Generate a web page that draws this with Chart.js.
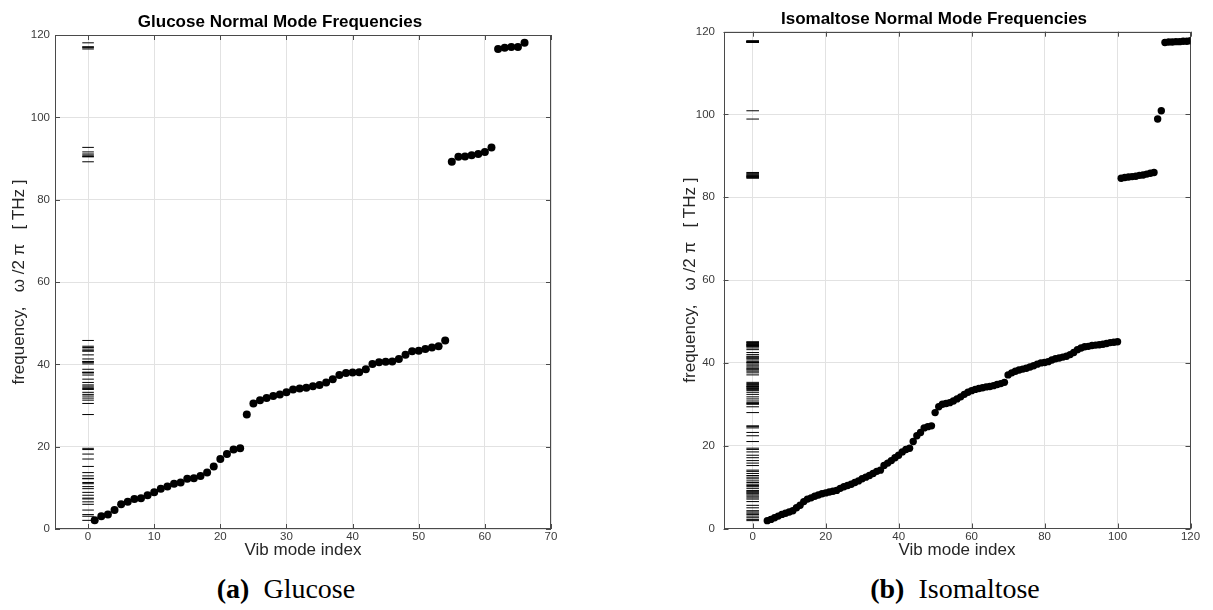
<!DOCTYPE html>
<html>
<head>
<meta charset="utf-8">
<title>Normal mode frequencies</title>
<script src="https://cdn.jsdelivr.net/npm/chart.js@4.4.1/dist/chart.umd.min.js"></script>
<style>
  body { margin: 0; background: #fff; }
  .wrap { position: relative; width: 1213px; height: 610px; }
  .panel { position: absolute; top: 0; }
  .caption {
    position: absolute; top: 575px;
    font-family: 'Liberation Serif', 'Times New Roman', serif;
    font-size: 28px; line-height: 28px; color: #000;
    white-space: nowrap; transform: translateX(-50%);
  }
</style>
</head>
<body>
<div class="wrap">
  <canvas id="glucose" class="panel" style="left:0" width="600" height="570"></canvas>
  <canvas id="isomaltose" class="panel" style="left:606px" width="607" height="570"></canvas>
  <div class="caption" style="left:286px"><b>(a)</b>&nbsp; Glucose</div>
  <div class="caption" style="left:955px"><b>(b)</b>&nbsp; Isomaltose</div>
</div>
<script>
// tick positions
const freqTicks = [0, 20, 40, 60, 80, 100, 120];
const glucoseIndexTicks = [0, 10, 20, 30, 40, 50, 60, 70];
const isoIndexTicks = [0, 20, 40, 60, 80, 100, 120];

// glucose: modes 1..66, frequency in THz
const glucoseFirstMode = 1;
const glucoseFreq = [
  2.1, 3.1, 3.5, 4.6, 6.0, 6.6, 7.3, 7.5, 8.2, 8.9,
  9.8, 10.3, 11.0, 11.3, 12.2, 12.3, 12.9, 13.7, 15.2, 17.0,
  18.2, 19.3, 19.6, 27.8, 30.5, 31.3, 31.8, 32.3, 32.7, 33.2,
  33.9, 34.1, 34.3, 34.7, 35.0, 35.6, 36.4, 37.4, 37.9, 38.0,
  38.1, 38.8, 40.1, 40.5, 40.6, 40.7, 41.3, 42.3, 43.2, 43.3,
  43.7, 44.1, 44.4, 45.8, 89.2, 90.4, 90.5, 90.8, 91.1, 91.6,
  92.7, 116.6, 116.9, 117.1, 117.1, 118.1
];

// isomaltose: modes 4..120, frequency in THz
const isoFirstMode = 4;
const isoFreq = [
  1.9, 2.2, 2.6, 3.0, 3.4, 3.7, 4.0, 4.3, 5.0, 5.6,
  6.5, 7.1, 7.4, 7.8, 8.1, 8.4, 8.6, 8.8, 9.0, 9.2,
  9.7, 10.1, 10.4, 10.7, 11.1, 11.5, 12.0, 12.4, 12.8, 13.3,
  13.8, 14.1, 15.2, 15.8, 16.4, 17.1, 17.7, 18.5, 19.1, 19.4,
  21.0, 22.4, 23.2, 24.3, 24.6, 24.8, 28.0, 29.4, 30.0, 30.2,
  30.4, 30.8, 31.3, 31.8, 32.4, 32.9, 33.3, 33.6, 33.8, 34.0,
  34.2, 34.3, 34.5, 34.8, 35.0, 35.3, 37.1, 37.6, 38.0, 38.3,
  38.5, 38.7, 39.0, 39.3, 39.7, 40.0, 40.1, 40.3, 40.7, 41.0,
  41.2, 41.4, 41.6, 42.0, 42.5, 43.2, 43.6, 43.9, 44.0, 44.2,
  44.3, 44.4, 44.5, 44.7, 44.9, 45.0, 45.1, 84.6, 84.8, 84.9,
  85.0, 85.1, 85.3, 85.4, 85.6, 85.8, 86.0, 98.9, 100.9, 117.4,
  117.5, 117.5, 117.6, 117.6, 117.7, 117.7, 117.8
];

const SANS = "'Liberation Sans', Arial, Helvetica, sans-serif";
const TICK_LEN = 5;

// closed box with inward tick marks on all four sides
const boxTicks = {
  id: 'boxTicks',
  beforeDatasetsDraw(chart) {
    const { ctx, chartArea: a, scales: { x, y } } = chart;
    ctx.save();
    ctx.strokeStyle = '#4a4a4a';
    ctx.lineWidth = 1;
    ctx.strokeRect(Math.round(a.left) + 0.5, Math.round(a.top) + 0.5,
                   Math.round(a.width) - 1, Math.round(a.height) - 1);
    ctx.beginPath();
    x.ticks.forEach(t => {
      const px = Math.round(x.getPixelForValue(t.value)) + 0.5;
      ctx.moveTo(px, a.bottom); ctx.lineTo(px, a.bottom - TICK_LEN);
      ctx.moveTo(px, a.top); ctx.lineTo(px, a.top + TICK_LEN);
    });
    y.ticks.forEach(t => {
      const py = Math.round(y.getPixelForValue(t.value)) + 0.5;
      ctx.moveTo(a.left, py); ctx.lineTo(a.left + TICK_LEN, py);
      ctx.moveTo(a.right, py); ctx.lineTo(a.right - TICK_LEN, py);
    });
    ctx.stroke();
    ctx.restore();
  }
};

function makePanel(id, cfg) {
  const modes = cfg.freq.map((f, i) => ({ x: cfg.firstMode + i, y: f }));
  const spectrum = cfg.freq.map(f => ({ x: 0, y: f }));

  return new Chart(document.getElementById(id), {
    type: 'scatter',
    data: {
      datasets: [
        {
          data: spectrum,
          pointStyle: 'line',
          pointRadius: cfg.dashHalf,
          borderColor: '#000',
          borderWidth: 1
        },
        {
          data: modes,
          pointStyle: 'circle',
          pointRadius: cfg.dotRadius,
          backgroundColor: '#000',
          borderColor: '#000',
          borderWidth: 0
        }
      ]
    },
    options: {
      responsive: false,
      animation: false,
      layout: { padding: { left: cfg.padLeft, right: cfg.padRight, top: 0, bottom: 0 } },
      plugins: {
        legend: { display: false },
        tooltip: { enabled: false },
        title: {
          display: true,
          text: cfg.title,
          color: '#000',
          font: { family: SANS, size: 17, weight: 'bold', lineHeight: 1.2 },
          padding: { top: cfg.titleTop, bottom: cfg.titleBottom }
        }
      },
      scales: {
        x: {
          type: 'linear',
          min: cfg.xMin,
          max: cfg.xMax,
          afterBuildTicks: s => { s.ticks = cfg.xTicks.map(v => ({ value: v })); },
          afterFit: s => { s.height = cfg.xAxisHeight; },
          grid: { color: '#e2e2e2', drawTicks: false },
          border: { display: false },
          ticks: { color: '#3a3a3a', padding: 1, maxRotation: 0, font: { family: SANS, size: 11.5 } },
          title: {
            display: true,
            text: 'Vib mode index',
            color: '#262626',
            font: { family: SANS, size: 17 },
            padding: { top: 0, bottom: 9 }
          }
        },
        y: {
          type: 'linear',
          min: 0,
          max: 120,
          afterBuildTicks: s => { s.ticks = freqTicks.map(v => ({ value: v })); },
          afterFit: s => { s.width = cfg.yAxisWidth; },
          grid: { color: '#e2e2e2', drawTicks: false },
          border: { display: false },
          ticks: { color: '#3a3a3a', padding: cfg.yTickPad, font: { family: SANS, size: 11.5 } },
          title: {
            display: true,
            text: 'frequency,   \u03c9 /2 \u03c0   [ THz ]',
            color: '#262626',
            font: { family: SANS, size: 17 },
            padding: { top: cfg.yTitleTop, bottom: 0 }
          }
        }
      }
    },
    plugins: [boxTicks]
  });
}

makePanel('glucose', {
  title: 'Glucose Normal Mode Frequencies',
  freq: glucoseFreq,
  firstMode: glucoseFirstMode,
  xTicks: glucoseIndexTicks,
  xMin: -5, xMax: 70,
  padLeft: 9, padRight: 49,
  yAxisWidth: 46, yTickPad: 5, yTitleTop: 0,
  xAxisHeight: 41,
  titleTop: 12.3, titleBottom: 2.3,
  dotRadius: 4, dashHalf: 5.8
});

makePanel('isomaltose', {
  title: 'Isomaltose Normal Mode Frequencies',
  freq: isoFreq,
  firstMode: isoFirstMode,
  xTicks: isoIndexTicks,
  xMin: -8, xMax: 120,
  padLeft: 71.5, padRight: 22.5,
  yAxisWidth: 46, yTickPad: 8.5, yTitleTop: 2.3,
  xAxisHeight: 41.5,
  titleTop: 9, titleBottom: 2.3,
  dotRadius: 3.7, dashHalf: 6.3
});
</script>
</body>
</html>
